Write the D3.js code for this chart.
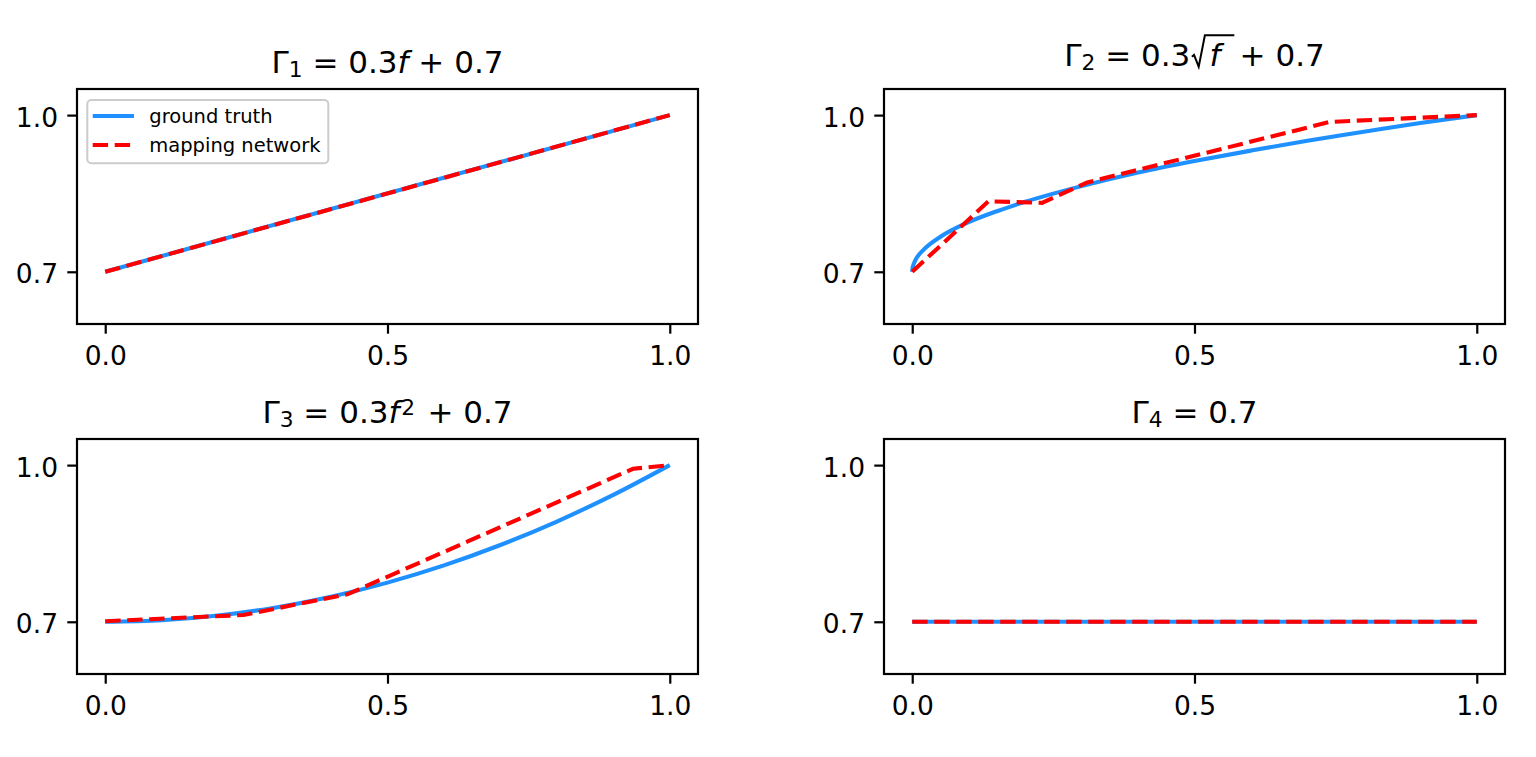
<!DOCTYPE html>
<html>
<head>
<meta charset="utf-8">
<script src="https://cdn.jsdelivr.net/npm/d3@7"></script>
<style>
  body { margin: 0; background: #fff; }
  svg { display: block; font-family: "DejaVu Sans", sans-serif; }
</style>
</head>
<body>
<div id="chart"></div>
<script>
// ---- data ----
const fLinear = [0, 1];
const truthLinear = [0.7, 1.0];
const netLinear = [0.7, 1.0];

const fSqrt = [0, 0.0005, 0.002, 0.005, 0.01, 0.02, 0.05, 0.1, 0.15, 0.2, 0.3, 0.4, 0.5, 0.6, 0.7, 0.8, 0.9, 1.0];
const truthSqrt = [0.700, 0.707, 0.713, 0.721, 0.730, 0.742, 0.767, 0.795, 0.816, 0.834, 0.864, 0.890, 0.912, 0.932, 0.951, 0.968, 0.985, 1.000];
const fNetSqrt = [0, 0.135, 0.23, 0.31, 0.74, 1.0];
const netSqrt = [0.700, 0.835, 0.832, 0.871, 0.987, 1.000];

const fSquare = [0, 0.1, 0.2, 0.3, 0.4, 0.5, 0.6, 0.7, 0.8, 0.9, 1.0];
const truthSquare = [0.700, 0.703, 0.712, 0.727, 0.748, 0.775, 0.808, 0.847, 0.892, 0.943, 1.000];
const fNetSquare = [0, 0.245, 0.43, 0.935, 1.0];
const netSquare = [0.701, 0.713, 0.753, 0.993, 1.000];

const fConst = [0, 1];
const truthConst = [0.7, 0.7];
const netConst = [0.7, 0.7];

const xTicks = [0, 0.5, 1.0];
const yTicks = [0.7, 1.0];
const legendLabels = ["ground truth", "mapping network"];

// title pieces (sub = subscript, sup = superscript, it = italic, root = under a radical)
const titles = [
  [{ t: "Γ" }, { t: "1", sub: true }, { t: " = 0.3" }, { t: "f", it: true }, { t: " + 0.7" }],
  [{ t: "Γ" }, { t: "2", sub: true }, { t: " = 0.3" }, { t: "f", it: true, root: true }, { t: " + 0.7" }],
  [{ t: "Γ" }, { t: "3", sub: true }, { t: " = 0.3" }, { t: "f", it: true }, { t: "2", sup: true }, { t: " + 0.7" }],
  [{ t: "Γ" }, { t: "4", sub: true }, { t: " = 0.7" }],
];

// ---- layout ----
const width = 1536, height = 757;
const axW = 621, axH = 235;
const axLeft = [77, 884], axTop = [89, 439];
const truthColor = "#1e90ff", netColor = "#ff0000";
const lineW = 4.1, dash = "15.4,6.6";
const tickFont = 26.5, titleFont = 31, legendFont = 19.5;

const panels = [
  { col: 0, row: 0, fT: fLinear, gT: truthLinear, fN: fLinear, gN: netLinear, title: titles[0], legend: true },
  { col: 1, row: 0, fT: fSqrt, gT: truthSqrt, fN: fNetSqrt, gN: netSqrt, title: titles[1] },
  { col: 0, row: 1, fT: fSquare, gT: truthSquare, fN: fNetSquare, gN: netSquare, title: titles[2] },
  { col: 1, row: 1, fT: fConst, gT: truthConst, fN: fConst, gN: netConst, title: titles[3] },
];

const svg = d3.select("#chart").append("svg")
  .attr("width", width)
  .attr("height", height);

svg.append("rect").attr("width", width).attr("height", height).attr("fill", "#fff");

const x = d3.scaleLinear().domain([-0.05, 1.05]).range([0, axW]);
const y = d3.scaleLinear().domain([0.6, 1.05]).range([axH, 0]);

const line = d3.line()
  .x(d => x(d[0]))
  .y(d => y(d[1]));

panels.forEach(p => {
  const g = svg.append("g")
    .attr("transform", `translate(${axLeft[p.col]},${axTop[p.row]})`);

  // ground truth (solid) then mapping network (dashed) on top
  g.append("path")
    .datum(d3.zip(p.fT, p.gT))
    .attr("fill", "none")
    .attr("stroke", truthColor)
    .attr("stroke-width", lineW)
    .attr("d", line.curve(d3.curveMonotoneX));

  g.append("path")
    .datum(d3.zip(p.fN, p.gN))
    .attr("fill", "none")
    .attr("stroke", netColor)
    .attr("stroke-width", lineW)
    .attr("stroke-dasharray", dash)
    .attr("d", line.curve(d3.curveLinear));

  // axes
  const xAxis = g.append("g")
    .attr("transform", `translate(0,${axH})`)
    .call(d3.axisBottom(x).tickValues(xTicks).tickFormat(d3.format(".1f")).tickSize(9.7));
  xAxis.selectAll("text").attr("y", 41).attr("dy", 0);

  const yAxis = g.append("g")
    .call(d3.axisLeft(y).tickValues(yTicks).tickFormat(d3.format(".1f")).tickSize(9.7));
  yAxis.selectAll("text").attr("x", -19).attr("dy", "0.42em");

  [xAxis, yAxis].forEach(a => {
    a.select(".domain").remove();
    a.attr("font-family", "DejaVu Sans").attr("font-size", tickFont);
    a.selectAll("line").attr("stroke", "#000").attr("stroke-width", 2.2);
    a.selectAll("text").attr("fill", "#000");
  });

  // spines
  g.append("rect")
    .attr("width", axW)
    .attr("height", axH)
    .attr("fill", "none")
    .attr("stroke", "#000")
    .attr("stroke-width", 2.2);

  // title
  const em = titleFont;
  const hasRoot = p.title.some(d => d.root);
  const base = -16 - (hasRoot ? 7 : 0);
  const title = g.append("text")
    .attr("x", axW / 2)
    .attr("y", base)
    .attr("text-anchor", "middle")
    .attr("font-size", titleFont)
    .attr("fill", "#000");

  let shift = 0, idx = 0, rootStart = -1, rootIdx = -1, afterRoot = false, afterSup = false;
  p.title.forEach(part => {
    const want = part.sub ? 4 : part.sup ? -8.5 : 0;
    const ts = title.append("tspan").text(part.t).attr("dy", want - shift);
    shift = want;
    if (part.sub || part.sup) ts.attr("font-size", titleFont * 0.7);
    if (part.sup) ts.attr("dx", 0.06 * em);
    if (part.it) ts.attr("font-style", "italic");
    if (afterRoot) ts.attr("dx", 0.3 * em);
    if (afterSup) ts.attr("dx", 0.08 * em);
    afterRoot = false;
    afterSup = !!part.sup;
    if (part.root) {
      ts.attr("dx", 0.62 * em);
      rootStart = idx - 1;
      rootIdx = idx;
      afterRoot = true;
    }
    idx += part.t.length;
  });

  if (rootIdx >= 0) {
    const node = title.node();
    const prev = node.getExtentOfChar(rootStart);
    const fx = node.getExtentOfChar(rootIdx);
    const x0 = prev.x + prev.width + 0.05 * em;
    const x1 = fx.x + 0.8 * em;
    const pts = [
      [x0, base - 0.30 * em],
      [x0 + 0.07 * em, base - 0.36 * em],
      [x0 + 0.22 * em, base + 0.02 * em],
      [x0 + 0.42 * em, base - 0.99 * em],
      [x1, base - 0.99 * em],
    ];
    g.append("path")
      .attr("d", d3.line()(pts))
      .attr("fill", "none")
      .attr("stroke", "#000")
      .attr("stroke-width", 2);
  }

  // legend
  if (p.legend) {
    const lg = g.append("g").attr("transform", "translate(10.3,11)");
    lg.append("rect")
      .attr("width", 241)
      .attr("height", 63.3)
      .attr("rx", 4)
      .attr("fill", "#fff")
      .attr("fill-opacity", 0.8)
      .attr("stroke", "#cccccc")
      .attr("stroke-width", 2);

    const rows = lg.selectAll("g.entry")
      .data(legendLabels)
      .join("g")
      .attr("class", "entry")
      .attr("transform", (d, i) => `translate(0,${16 + i * 29})`);

    rows.append("line")
      .attr("x1", 5.4)
      .attr("x2", 46.7)
      .attr("stroke", (d, i) => i === 0 ? truthColor : netColor)
      .attr("stroke-width", lineW)
      .attr("stroke-dasharray", (d, i) => i === 0 ? null : dash);

    rows.append("text")
      .attr("x", 62)
      .attr("dy", "0.35em")
      .attr("font-size", legendFont)
      .attr("fill", "#000")
      .text(d => d);
  }
});
</script>
</body>
</html>
